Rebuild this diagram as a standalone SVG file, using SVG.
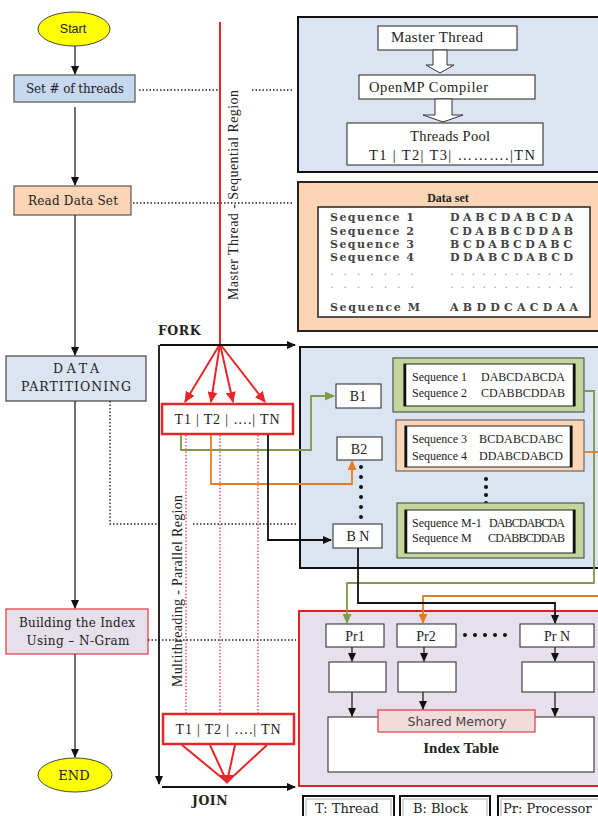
<svg xmlns="http://www.w3.org/2000/svg" width="598" height="816" viewBox="0 0 598 816">
<style>
.s{font-family:"Liberation Serif",serif;fill:#222}
.w{font-family:"DejaVu Serif",serif;fill:#222}
.m{text-anchor:middle}
.b{font-weight:bold}
.ds{font-family:"DejaVu Serif",serif;font-weight:bold;font-size:11px;fill:#444}
.dd{font-family:"DejaVu Serif",serif;font-size:11px;fill:#999}
.sq{font-family:"Liberation Serif",serif;font-size:12px;fill:#222}
.box{fill:#fff;stroke:#222;stroke-width:1}
.dot{fill:none;stroke:#222;stroke-width:1.4;stroke-dasharray:1.5 2}
.rdot{fill:none;stroke:#e8262a;stroke-width:1.2;stroke-dasharray:1.5 1.8}
.ln{fill:none;stroke:#222;stroke-width:1.3}
.red{fill:none;stroke:#e8262a;stroke-width:2}
.grn{fill:none;stroke:#7f9a4a;stroke-width:1.8}
.org{fill:none;stroke:#e57d22;stroke-width:1.8}
.blk{fill:none;stroke:#111;stroke-width:1.8}
</style>
<defs>
<marker id="ak" markerWidth="9" markerHeight="8" refX="8" refY="4" orient="auto" markerUnits="userSpaceOnUse"><path d="M0,0 L9,4 L0,8 z" fill="#111"/></marker>
<marker id="ar" markerWidth="11" markerHeight="10" refX="10" refY="5" orient="auto" markerUnits="userSpaceOnUse"><path d="M0,0 L11,5 L0,10 z" fill="#e8262a"/></marker>
<marker id="ag" markerWidth="10" markerHeight="9" refX="9" refY="4.5" orient="auto" markerUnits="userSpaceOnUse"><path d="M0,0 L10,4.5 L0,9 z" fill="#7f9a4a"/></marker>
<marker id="ao" markerWidth="10" markerHeight="9" refX="9" refY="4.5" orient="auto" markerUnits="userSpaceOnUse"><path d="M0,0 L10,4.5 L0,9 z" fill="#e57d22"/></marker>
</defs>
<rect width="598" height="816" fill="#fff"/>

<!-- panels -->
<g id="panel-top">
<rect x="298" y="17" width="312" height="155" fill="#dbe5f1" stroke="#111" stroke-width="2"/>
<rect x="378" y="26" width="139" height="24" class="box"/>
<text x="437" y="42" class="s m" font-size="15" textLength="92">Master Thread</text>
<path d="M433,50 L447,50 L447,65 L454,65 L440,73 L426,65 L433,65 z" fill="#fff" stroke="#333" stroke-width="1"/>
<rect x="359" y="75" width="176" height="24" class="box"/>
<text x="369" y="92" class="s" font-size="14.5" textLength="119">OpenMP Compiler</text>
<path d="M435,99 L452,99 L452,115 L463,115 L443,122 L423,115 L435,115 z" fill="#fff" stroke="#333" stroke-width="1"/>
<rect x="347" y="123" width="196" height="42" class="box"/>
<text x="450" y="141" class="s m" font-size="14.5" textLength="80">Threads Pool</text>
<text x="369" y="160" class="s" font-size="14.5" textLength="166">T1 | T2| T3| ……….|TN</text>
</g>

<g id="panel-dataset">
<rect x="298" y="182" width="312" height="149" fill="#fbd5b5" stroke="#2a2420" stroke-width="2"/>
<rect x="318" y="207" width="272" height="110" fill="#fff" stroke="#222" stroke-width="1.5"/>
<text x="448" y="202" class="s m b" font-size="12">Data set</text>
<text x="330" y="221" class="ds" textLength="84">Sequence 1</text>
<text x="450" y="221" class="ds" textLength="123">DABCDABCDA</text>
<text x="330" y="235" class="ds" textLength="84">Sequence 2</text>
<text x="450" y="235" class="ds" textLength="123">CDABBCDDAB</text>
<text x="330" y="248" class="ds" textLength="84">Sequence 3</text>
<text x="450" y="248" class="ds" textLength="122">BCDABCDABC</text>
<text x="330" y="261" class="ds" textLength="84">Sequence 4</text>
<text x="450" y="261" class="ds" textLength="123">DDABCDABCD</text>
<text x="330" y="275" class="dd" textLength="84">. . . . . . .</text>
<text x="450" y="275" class="dd" textLength="123">. . . . . . . . . . . .</text>
<text x="330" y="288" class="dd" textLength="84">. . . . . . .</text>
<text x="450" y="288" class="dd" textLength="123">. . . . . . . . . . . .</text>
<text x="330" y="311" class="ds" textLength="90">Sequence M</text>
<text x="450" y="311" class="ds" textLength="128">ABDDCACDAA</text>
</g>

<g id="panel-partition">
<rect x="300" y="347" width="312" height="221" fill="#dbe5f1" stroke="#111" stroke-width="2"/>
</g>

<g id="panel-index">
<rect x="299" y="611" width="312" height="175" fill="#e5e0ec" stroke="#e02020" stroke-width="2"/>
</g>

<!-- left flow nodes -->
<g id="start">
<ellipse cx="74" cy="29" rx="36" ry="17" fill="#ffff00" stroke="#444" stroke-width="1"/>
<text x="73" y="33" font-family="Liberation Sans,sans-serif" font-size="12.5" fill="#222" text-anchor="middle">Start</text>
</g>
<g id="set-threads">
<rect x="14" y="75" width="121" height="27" fill="#c6d9f1" stroke="#555" stroke-width="1.2"/>
<text x="75" y="93" class="w m" font-size="12" textLength="98">Set # of threads</text>
</g>
<g id="read-data">
<rect x="14" y="186" width="117" height="29" fill="#fbd5b5" stroke="#555" stroke-width="1.2"/>
<text x="73" y="205" class="w m" font-size="12" textLength="90">Read Data Set</text>
</g>
<g id="data-partitioning">
<rect x="6" y="356" width="140" height="45" fill="#dbe5f1" stroke="#444" stroke-width="1.2"/>
<text x="76" y="373" class="w m" font-size="12.5" textLength="46">DATA</text>
<text x="76" y="391" class="w m" font-size="12.5" textLength="110">PARTITIONING</text>
</g>
<g id="building-index">
<rect x="6" y="609" width="142" height="45" fill="#e5e0ec" stroke="#e03a3a" stroke-width="1.2"/>
<text x="77" y="627" class="w m" font-size="12" textLength="116">Building the Index</text>
<text x="78" y="645" class="w m" font-size="12" textLength="103">Using – N-Gram</text>
</g>
<g id="end">
<ellipse cx="75" cy="775" rx="37" ry="17" fill="#ffff00" stroke="#444" stroke-width="1"/>
<text x="74" y="780" class="w m" font-size="13">END</text>
</g>

<!-- thread boxes -->
<g id="threads-fork">
<rect x="162" y="404" width="131" height="30" fill="#fff" stroke="#e8262a" stroke-width="2.5"/>
<text x="227" y="424" class="s m" font-size="14" textLength="105">T1 | T2 | ….| TN</text>
</g>
<g id="threads-join">
<rect x="163" y="714" width="131" height="30" fill="#fff" stroke="#e8262a" stroke-width="2.5"/>
<text x="228" y="734" class="s m" font-size="14" textLength="105">T1 | T2 | ….| TN</text>
</g>

<!-- blocks -->
<g id="b1"><rect x="336" y="384" width="45" height="24" class="box"/><text x="358" y="401" class="s m" font-size="14">B1</text></g>
<g id="b2"><rect x="337" y="437" width="45" height="23" class="box"/><text x="359" y="454" class="s m" font-size="14">B2</text></g>
<g id="bn"><rect x="333" y="524" width="49" height="24" class="box"/><text x="358" y="541" class="s m" font-size="14">B N</text></g>
<g id="b-dots" fill="#111">
<circle cx="361" cy="467" r="2"/><circle cx="361" cy="477" r="2"/><circle cx="361" cy="487" r="2"/><circle cx="361" cy="497" r="2"/><circle cx="361" cy="507" r="2"/><circle cx="361" cy="517" r="2"/>
</g>

<!-- sequence boxes -->
<g id="seq-12">
<rect x="393" y="358" width="191" height="54" fill="#c3d69b" stroke="#555" stroke-width="1.2"/>
<rect x="404" y="364" width="171" height="42" fill="#fff" stroke="#222" stroke-width="1"/>
<line x1="405" y1="364" x2="405" y2="406" stroke="#111" stroke-width="2.5"/>
<line x1="574" y1="364" x2="574" y2="406" stroke="#111" stroke-width="2.5"/>
<text x="412" y="381" class="sq">Sequence 1</text><text x="481" y="381" class="sq" textLength="84">DABCDABCDA</text>
<text x="412" y="397" class="sq">Sequence 2</text><text x="481" y="397" class="sq" textLength="84">CDABBCDDAB</text>
</g>
<g id="seq-34">
<rect x="396" y="420" width="188" height="51" fill="#fbd5b5" stroke="#666" stroke-width="1.2"/>
<rect x="405" y="426" width="167" height="41" fill="#fff" stroke="#222" stroke-width="1"/>
<line x1="406" y1="426" x2="406" y2="467" stroke="#111" stroke-width="2.5"/>
<line x1="571" y1="426" x2="571" y2="467" stroke="#111" stroke-width="2.5"/>
<text x="412" y="443" class="sq">Sequence 3</text><text x="479" y="443" class="sq" textLength="84">BCDABCDABC</text>
<text x="412" y="460" class="sq">Sequence 4</text><text x="479" y="460" class="sq" textLength="84">DDABCDABCD</text>
</g>
<g id="seq-dots" fill="#111">
<circle cx="486" cy="479" r="2"/><circle cx="486" cy="487" r="2"/><circle cx="486" cy="495" r="2"/><circle cx="486" cy="503" r="2"/>
</g>
<g id="seq-m">
<rect x="397" y="503" width="187" height="55" fill="#c3d69b" stroke="#555" stroke-width="1.2"/>
<rect x="405" y="510" width="170" height="43" fill="#fff" stroke="#222" stroke-width="1"/>
<line x1="406" y1="510" x2="406" y2="553" stroke="#111" stroke-width="2.5"/>
<line x1="574" y1="510" x2="574" y2="553" stroke="#111" stroke-width="2.5"/>
<text x="412" y="527" class="sq" font-size="11">Sequence M-1</text><text x="489" y="527" class="sq" font-size="11.5" textLength="76">DABCDABCDA</text>
<text x="412" y="542" class="sq" font-size="11">Sequence M</text><text x="488" y="542" class="sq" font-size="11.5" textLength="77">CDABBCDDAB</text>
</g>

<!-- processors -->
<g id="pr1"><rect x="326" y="624" width="58" height="23" class="box"/><text x="355" y="641" class="s m" font-size="14">Pr1</text></g>
<g id="pr2"><rect x="397" y="624" width="59" height="23" class="box"/><text x="426" y="641" class="s m" font-size="14">Pr2</text></g>
<g id="prn"><rect x="520" y="624" width="74" height="23" class="box"/><text x="557" y="641" class="s m" font-size="14">Pr N</text></g>
<g id="pr-dots" fill="#111">
<circle cx="465" cy="635" r="2"/><circle cx="475" cy="635" r="2"/><circle cx="485" cy="635" r="2"/><circle cx="495" cy="635" r="2"/><circle cx="505" cy="635" r="2"/>
</g>
<g id="work1"><rect x="329" y="662" width="57" height="30" class="box"/></g>
<g id="work2"><rect x="398" y="662" width="58" height="30" class="box"/></g>
<g id="workn"><rect x="522" y="662" width="72" height="30" class="box"/></g>
<g id="index-table">
<rect x="328" y="717" width="266" height="55" class="box"/>
<text x="461" y="753" class="s m b" font-size="15">Index Table</text>
</g>
<g id="shared-memory">
<rect x="378" y="710" width="157" height="22" fill="#f2dcdb" stroke="#e03a3a" stroke-width="1.2"/>
<text x="457" y="726" font-family="DejaVu Sans,sans-serif" font-size="12.5" fill="#444" text-anchor="middle">Shared Memory</text>
</g>

<!-- legend -->
<g id="legend-t"><rect x="303" y="796" width="91" height="26" fill="#fff" stroke="#111" stroke-width="2"/><rect x="306" y="799" width="85" height="22" fill="none" stroke="#999" stroke-width="0.8"/><text x="315" y="813" class="w" font-size="13">T:  Thread</text></g>
<g id="legend-b"><rect x="400" y="796" width="90" height="26" fill="#fff" stroke="#111" stroke-width="2"/><rect x="403" y="799" width="84" height="22" fill="none" stroke="#999" stroke-width="0.8"/><text x="413" y="813" class="w" font-size="13">B:  Block</text></g>
<g id="legend-pr"><rect x="498" y="796" width="110" height="26" fill="#fff" stroke="#111" stroke-width="2"/><rect x="501" y="799" width="104" height="22" fill="none" stroke="#999" stroke-width="0.8"/><text x="503" y="813" class="w" font-size="13">Pr: Processor</text></g>

<!-- region labels -->
<g id="labels">
<text x="158" y="335" class="w b" font-size="12.5" letter-spacing="0.5">FORK</text>
<text x="192" y="805" class="w b" font-size="12.5" letter-spacing="0.5">JOIN</text>
<text transform="translate(238,195) rotate(-90)" class="s m" font-size="14" textLength="210">Master Thread - Sequential Region</text>
<text transform="translate(182,591) rotate(-90)" class="s m" font-size="14" textLength="192">Multithreading - Parallel Region</text>
</g>

<!-- connectors -->
<g id="connectors">
<line x1="75" y1="46" x2="75" y2="74" class="ln" marker-end="url(#ak)"/>
<line x1="75" y1="107" x2="75" y2="185" class="ln" marker-end="url(#ak)"/>
<line x1="75" y1="215" x2="75" y2="355" class="ln" marker-end="url(#ak)"/>
<line x1="75" y1="401" x2="75" y2="608" class="ln" marker-end="url(#ak)"/>
<line x1="75" y1="654" x2="75" y2="757" class="ln" marker-end="url(#ak)"/>

<line x1="139" y1="90" x2="218" y2="90" class="dot"/>
<line x1="252" y1="90" x2="293" y2="90" class="dot"/>
<line x1="133" y1="203" x2="294" y2="203" class="dot"/>
<polyline points="110,401 110,524 160,524" class="dot"/>
<line x1="193" y1="524" x2="296" y2="524" class="dot"/>
<line x1="148" y1="640" x2="296" y2="640" class="dot"/>

<line x1="220" y1="22" x2="220" y2="344" class="red"/>
<line x1="220" y1="344" x2="185" y2="402" class="red" marker-end="url(#ar)"/>
<line x1="220" y1="344" x2="211" y2="402" class="red" marker-end="url(#ar)"/>
<line x1="220" y1="344" x2="233" y2="402" class="red" marker-end="url(#ar)"/>
<line x1="220" y1="344" x2="265" y2="402" class="red" marker-end="url(#ar)"/>
<line x1="186" y1="435" x2="186" y2="713" class="rdot"/>
<line x1="220" y1="435" x2="220" y2="713" class="rdot"/>
<line x1="258" y1="435" x2="258" y2="713" class="rdot"/>
<line x1="182" y1="745" x2="227" y2="782" class="red"/>
<line x1="210" y1="745" x2="227" y2="782" class="red"/>
<line x1="235" y1="745" x2="227" y2="782" class="red"/>
<line x1="267" y1="745" x2="227" y2="782" class="red"/>
<path d="M219,775 L235,775 L227,784 z" fill="#e8262a"/>

<line x1="160" y1="345" x2="295" y2="345" class="blk" marker-end="url(#ak)"/>
<line x1="159" y1="345" x2="159" y2="784" class="blk" marker-end="url(#ak)"/>
<line x1="162" y1="787" x2="295" y2="787" class="blk" marker-end="url(#ak)"/>

<polyline points="181,435 181,450 311,450 311,396 334,396" class="grn" marker-end="url(#ag)"/>
<polyline points="211,435 211,484 352,484 352,461" class="org" marker-end="url(#ao)"/>
<polyline points="268,435 268,540 331,540" class="blk" marker-end="url(#ak)"/>

<polyline points="584,391 594,391 594,583 347,583 347,623" class="grn" marker-end="url(#ag)"/>
<line x1="584" y1="452" x2="600" y2="452" class="org"/>
<polyline points="600,596 423,596 423,623" class="org" marker-end="url(#ao)"/>
<polyline points="358,548 358,603 555,603 555,623" class="blk" marker-end="url(#ak)"/>

<line x1="352" y1="647" x2="352" y2="661" class="ln" marker-end="url(#ak)"/>
<line x1="424" y1="647" x2="424" y2="661" class="ln" marker-end="url(#ak)"/>
<line x1="555" y1="647" x2="555" y2="661" class="ln" marker-end="url(#ak)"/>
<line x1="352" y1="692" x2="352" y2="716" class="ln" marker-end="url(#ak)"/>
<line x1="423" y1="692" x2="423" y2="709" class="ln" marker-end="url(#ak)"/>
<line x1="555" y1="692" x2="555" y2="716" class="ln" marker-end="url(#ak)"/>
</g>
</svg>
